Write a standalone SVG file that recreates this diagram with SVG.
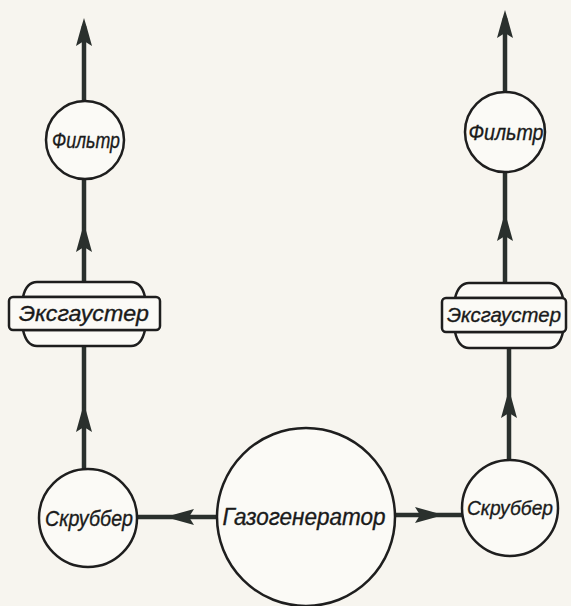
<svg xmlns="http://www.w3.org/2000/svg" width="571" height="606" viewBox="0 0 571 606">
<style>
.bg{fill:#f7f5ef}
.node{fill:#fbfaf6;stroke:#1e1e1e;stroke-width:2.5}
.ln{stroke:#2a302d;stroke-width:4.5;fill:none}
.ah{fill:#2a302d}
text{font-family:"Liberation Sans","DejaVu Sans",sans-serif;font-style:italic;fill:#1a1a1a;stroke:#1a1a1a;stroke-width:0.35;text-anchor:middle}
</style>
<defs>
<path id="arrUp" d="M0,0 L3,10 L8,28 L0,23 L-8,28 L-3,10 Z"/>
</defs>
<rect class="bg" width="571" height="606"/>
<g id="connectors">
  <line class="ln" x1="84" y1="102" x2="84" y2="26"/>
  <use href="#arrUp" class="ah" x="84" y="18"/>
  <line class="ln" x1="84" y1="178" x2="84" y2="282"/>
  <use href="#arrUp" class="ah" x="84" y="224"/>
  <line class="ln" x1="84" y1="346" x2="84" y2="470"/>
  <use href="#arrUp" class="ah" x="84" y="404"/>
  <line class="ln" x1="217" y1="517" x2="137" y2="517"/>
  <use href="#arrUp" class="ah" transform="translate(166,517) rotate(-90)"/>
  <line class="ln" x1="395" y1="515" x2="462" y2="515"/>
  <use href="#arrUp" class="ah" transform="translate(443,515) rotate(90)"/>
  <line class="ln" x1="509" y1="460" x2="509" y2="348"/>
  <use href="#arrUp" class="ah" x="509" y="390"/>
  <line class="ln" x1="505" y1="283" x2="505" y2="172"/>
  <use href="#arrUp" class="ah" x="505" y="213"/>
  <line class="ln" x1="505" y1="92" x2="505" y2="18"/>
  <use href="#arrUp" class="ah" x="505" y="10"/>
</g>
<g id="filter-left">
  <circle class="node" cx="85" cy="140" r="39"/>
  <text x="86" y="148" font-size="22" textLength="68" lengthAdjust="spacingAndGlyphs">Фильтр</text>
</g>
<g id="exhauster-left">
  <path class="node" d="M23,297 C25,288 29,282 37,282 L131,282 C139,282 143,288 145,297 Z"/>
  <path class="node" d="M23,330 C25,339 29,346 37,346 L131,346 C139,346 143,339 145,330 Z"/>
  <rect class="node" x="9" y="297" width="151" height="33" rx="4"/>
  <text x="84" y="321" font-size="22" textLength="130" lengthAdjust="spacingAndGlyphs">Эксгаустер</text>
</g>
<g id="scrubber-left">
  <circle class="node" cx="88" cy="518" r="49"/>
  <text x="89" y="526" font-size="22" textLength="88" lengthAdjust="spacingAndGlyphs">Скруббер</text>
</g>
<g id="gasgenerator">
  <circle class="node" cx="306" cy="517" r="89"/>
  <text x="304" y="525" font-size="23" textLength="163" lengthAdjust="spacingAndGlyphs">Газогенератор</text>
</g>
<g id="scrubber-right">
  <circle class="node" cx="510" cy="508" r="48"/>
  <text x="510" y="515" font-size="21" textLength="86" lengthAdjust="spacingAndGlyphs">Скруббер</text>
</g>
<g id="exhauster-right">
  <path class="node" d="M455,298 C457,290 461,283 469,283 L549,283 C557,283 561,290 563,298 Z"/>
  <path class="node" d="M455,332 C457,341 461,348 469,348 L549,348 C557,348 561,341 563,332 Z"/>
  <rect class="node" x="442" y="298" width="124" height="34" rx="4"/>
  <text x="504" y="322" font-size="21" textLength="114" lengthAdjust="spacingAndGlyphs">Эксгаустер</text>
</g>
<g id="filter-right">
  <circle class="node" cx="505" cy="132" r="40"/>
  <text x="506" y="140" font-size="22" textLength="75" lengthAdjust="spacingAndGlyphs">Фильтр</text>
</g>
</svg>
